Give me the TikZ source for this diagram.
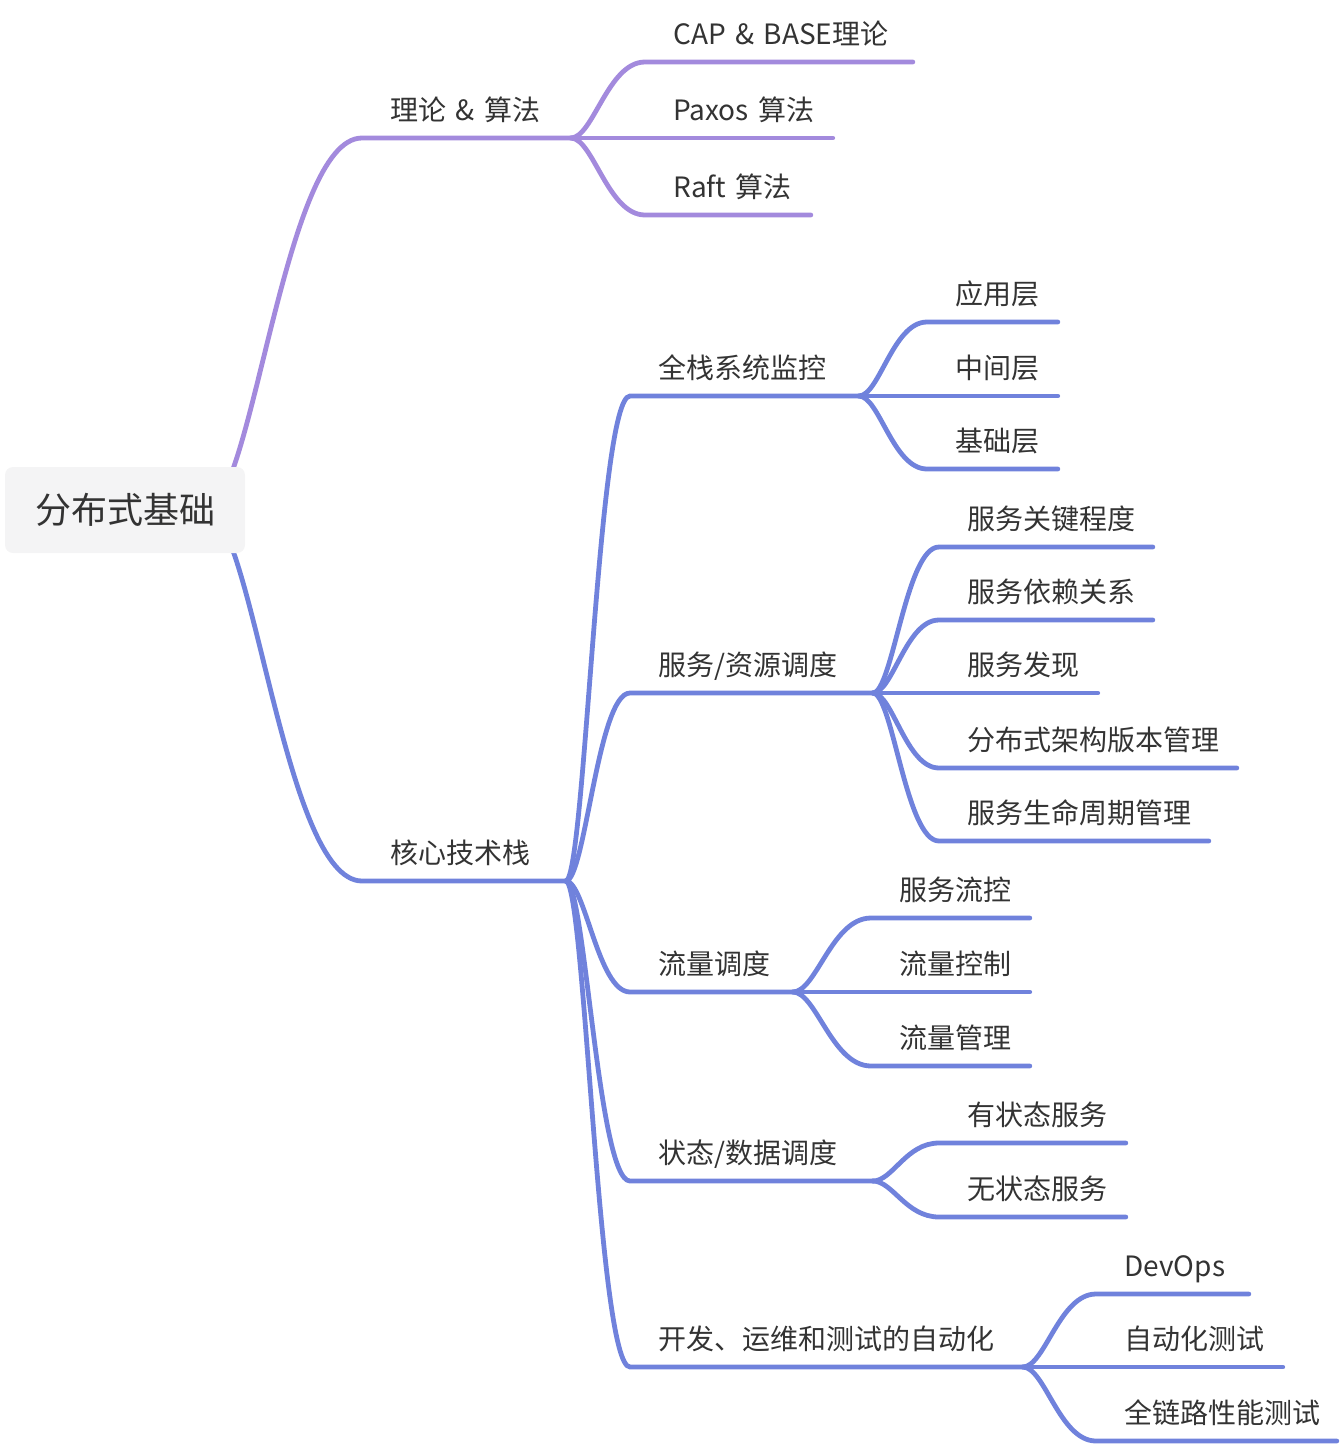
\documentclass[tikz,border=0pt]{standalone}
\usepackage{fontspec}
\setmainfont{Noto Sans CJK SC}
\usetikzlibrary{calc,backgrounds}

\definecolor{thpurple}{HTML}{A38ADD}
\definecolor{coreblue}{HTML}{7082DC}
\definecolor{rootfill}{HTML}{F4F4F5}
\definecolor{inkgray}{HTML}{333333}

\tikzset{
  topic/.style={anchor=south west, inner xsep=0pt, inner ysep=6.7pt,
    text width=#1, align=left, text height=12pt, text depth=2pt,
    font=\fontsize{14pt}{16pt}\selectfont, text=inkgray,
    execute at begin node={\hspace*{14pt}}},
  branch/.style={to path={let \p1=(\tikztostart), \p2=(\tikztotarget) in
    .. controls ({\x1+0.3*(\x2-\x1)},\y1) and ({\x1+0.5*(\x2-\x1)},\y2) .. (\tikztotarget)}},
  purpleline/.style={draw=thpurple, line width=2.4pt, line cap=round},
  blueline/.style={draw=coreblue, line width=2.4pt, line cap=round},
}

\begin{document}
\begin{tikzpicture}[x=0.5pt, y=-0.5pt]
            \useasboundingbox (0,0) rectangle (1340,1446);

            \node[fill=rootfill, rounded corners=4pt, minimum width=120pt, minimum height=43pt,
                  inner sep=0pt, text=inkgray, font=\fontsize{18pt}{20pt}\selectfont] (root) at (125,510) {分布式基础};

            % first level
            \node[topic=104pt] (th) at (362,138) {理论 \& 算法};
            \node[topic=101.5pt] (core) at (362,881) {核心技术栈};

            % theory branch
            \node[topic=133.5pt] (cap) at (645,62) {CAP \& BASE理论};
            \node[topic=93.5pt] (paxos) at (645,138) {Paxos 算法};
            \node[topic=82.5pt] (raft) at (645,215) {Raft 算法};

            % core branch
            \node[topic=114pt] (mon) at (630,396) {全栈系统监控};
            \node[topic=121pt] (svc) at (630,693) {服务/资源调度};
            \node[topic=81pt] (flow) at (630,992) {流量调度};
            \node[topic=121pt] (state) at (630,1181) {状态/数据调度};
            \node[topic=196pt] (auto) at (630,1367) {开发、运维和测试的自动化};

            \node[topic=65pt] (app) at (927,322) {应用层};
            \node[topic=65pt] (mid) at (927,396) {中间层};
            \node[topic=65pt] (base) at (927,469) {基础层};

            \node[topic=106.5pt] (key) at (939,547) {服务关键程度};
            \node[topic=106.5pt] (dep) at (939,620) {服务依赖关系};
            \node[topic=79pt] (disc) at (939,693) {服务发现};
            \node[topic=148.5pt] (ver) at (939,768) {分布式架构版本管理};
            \node[topic=134.5pt] (life) at (939,841) {服务生命周期管理};

            \node[topic=79pt] (fc) at (871,918) {服务流控};
            \node[topic=79pt] (fctl) at (871,992) {流量控制};
            \node[topic=79pt] (fmg) at (871,1066) {流量管理};

            \node[topic=93pt] (sf) at (939,1143) {有状态服务};
            \node[topic=93pt] (sl) at (939,1217) {无状态服务};

            \node[topic=76pt] (devops) at (1096,1294) {DevOps};
            \node[topic=93pt] (autotest) at (1096,1367) {自动化测试};
            \node[topic=120pt] (perf) at (1096,1441) {全链路性能测试};

            \begin{scope}[on background layer]
            \draw[purpleline] ([xshift=-20pt]root.east) to[branch] (th.south west) -- (th.south east);
            \draw[blueline] ([xshift=-20pt]root.east) to[branch] (core.south west) -- (core.south east);

            \foreach \c in {cap,paxos,raft}
                \draw[purpleline] (th.south east) to[branch] (\c.south west) -- (\c.south east);
            \foreach \c in {mon,svc,flow,state,auto}
                \draw[blueline] (core.south east) to[branch] (\c.south west) -- (\c.south east);

            \foreach \c in {app,mid,base}
                \draw[blueline] (mon.south east) to[branch] (\c.south west) -- (\c.south east);
            \foreach \c in {key,dep,disc,ver,life}
                \draw[blueline] (svc.south east) to[branch] (\c.south west) -- (\c.south east);
            \foreach \c in {fc,fctl,fmg}
                \draw[blueline] (flow.south east) to[branch] (\c.south west) -- (\c.south east);
            \foreach \c in {sf,sl}
                \draw[blueline] (state.south east) to[branch] (\c.south west) -- (\c.south east);
            \foreach \c in {devops,autotest,perf}
                \draw[blueline] (auto.south east) to[branch] (\c.south west) -- (\c.south east);
            \end{scope}
        \end{tikzpicture}
\end{document}
